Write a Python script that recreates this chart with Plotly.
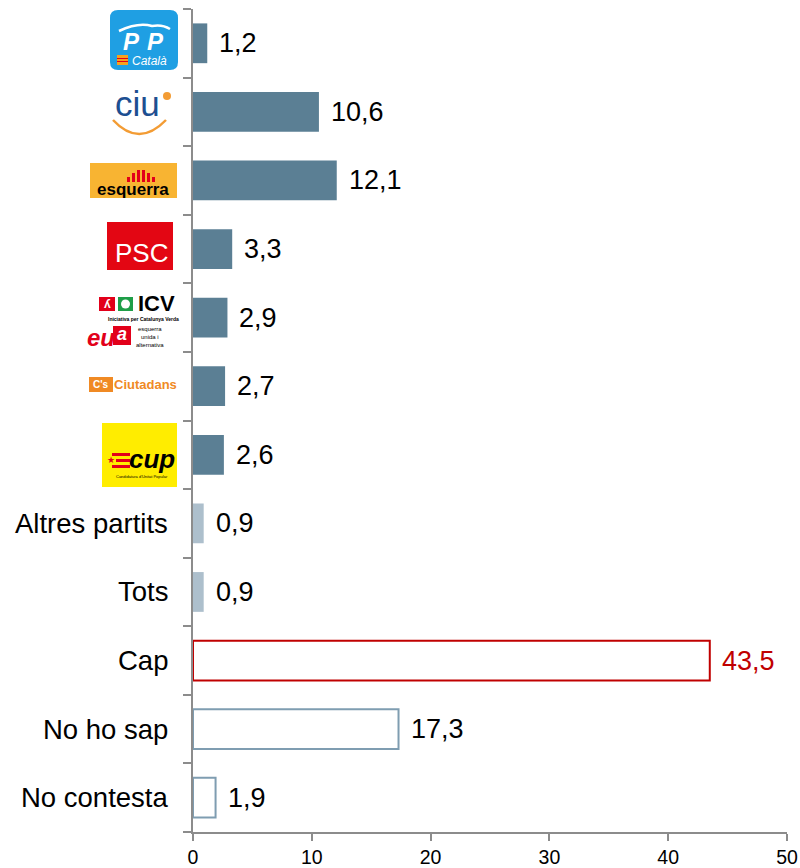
import plotly.graph_objects as go

# ---------------- data ----------------
categories = ["PP", "CiU", "ERC", "PSC", "ICV-EUiA", "C's", "CUP",
              "Altres partits", "Tots", "Cap", "No ho sap", "No contesta"]
values = [1.2, 10.6, 12.1, 3.3, 2.9, 2.7, 2.6, 0.9, 0.9, 43.5, 17.3, 1.9]
text_categories = ["Altres partits", "Tots", "Cap", "No ho sap", "No contesta"]
x_ticks = [0, 10, 20, 30, 40, 50]

# ---------------- styles ----------------
DARK = "#5b7f94"
LIGHT = "#adbfcc"
RED = "#c00000"
OUTL = "#7f9db1"
AXIS = "#8c8c8c"

fills, lines, lwidths, label_colors = [], [], [], []
for c in categories:
    if c in ("Altres partits", "Tots"):
        fills.append(LIGHT); lines.append(LIGHT); lwidths.append(0); label_colors.append("black")
    elif c == "Cap":
        fills.append("white"); lines.append(RED); lwidths.append(2); label_colors.append(RED)
    elif c in ("No ho sap", "No contesta"):
        fills.append("white"); lines.append(OUTL); lwidths.append(2); label_colors.append("black")
    else:
        fills.append(DARK); lines.append(DARK); lwidths.append(0); label_colors.append("black")

idx = list(range(len(categories)))

FONT = "Liberation Sans, Arial, sans-serif"
W_FIG, H_FIG = 800, 868
L, R, T, B = 193, 13, 9, 36
PW = W_FIG - L - R
PH = H_FIG - T - B


def X(px):
    return (px - L) / PW


def Y(py):
    return (H_FIG - B - py) / PH


fig = go.Figure()
fig.add_trace(go.Bar(
    x=values, y=idx, orientation="h",
    marker=dict(color=fills, line=dict(color=lines, width=lwidths)),
    width=0.58, hoverinfo="skip", showlegend=False,
))

annotations = []
# value labels
for i, v in enumerate(values):
    annotations.append(dict(
        x=v, y=i, xref="x", yref="y", xanchor="left", yanchor="middle",
        xshift=10, text=f"{v:.1f}".replace(".", ","), showarrow=False,
        font=dict(size=27, color=label_colors[i], family=FONT)))

# text category labels
for c in text_categories:
    i = categories.index(c)
    annotations.append(dict(
        x=X(170), y=i, xref="paper", yref="y", xanchor="right", yanchor="middle",
        text=c, showarrow=False, font=dict(size=27.5, color="black", family=FONT)))

shapes = []


def rect(x0, y0, x1, y1, fill, line_color=None, lw=0):
    shapes.append(dict(type="rect", xref="paper", yref="paper",
                       x0=X(x0), x1=X(x1), y0=Y(y1), y1=Y(y0),
                       fillcolor=fill, line=dict(width=lw, color=line_color or fill),
                       layer="above"))


def txt(px, py, s, size, color, bold=False, italic=False, anchor="center", family=FONT):
    t = s
    if bold:
        t = "<b>" + t + "</b>"
    if italic:
        t = "<i>" + t + "</i>"
    annotations.append(dict(x=X(px), y=Y(py), xref="paper", yref="paper",
                            xanchor=anchor, yanchor="middle", text=t, showarrow=False,
                            borderpad=0,
                            font=dict(size=size, color=color, family=family)))


def path(d_points, color, width, fill=None):
    shapes.append(dict(type="path", xref="paper", yref="paper", path=d_points,
                       line=dict(color=color, width=width),
                       fillcolor=fill if fill else "rgba(0,0,0,0)", layer="above"))


def P(px, py):
    return f"{X(px)},{Y(py)}"


# --- PP Català logo ---
r = 8
x0, y0, x1, y1 = 110, 10, 178, 70
d = (f"M {P(x0 + r, y0)} L {P(x1 - r, y0)} Q {P(x1, y0)} {P(x1, y0 + r)} "
     f"L {P(x1, y1 - r)} Q {P(x1, y1)} {P(x1 - r, y1)} L {P(x0 + r, y1)} "
     f"Q {P(x0, y1)} {P(x0, y1 - r)} L {P(x0, y0 + r)} Q {P(x0, y0)} {P(x0 + r, y0)} Z")
path(d, "#1f9fe3", 0, fill="#1f9fe3")
path(f"M {P(119, 31)} Q {P(138, 22)} {P(152, 26)} Q {P(162, 24)} {P(170, 29)}", "white", 2.5)
txt(131, 42, "P", 24, "white", bold=True, italic=True)
txt(155, 42, "P", 24, "white", bold=True, italic=True)
rect(117, 55, 128, 65, "#f7a21b")
rect(117, 58, 128, 59, "#e2001a")
rect(117, 61, 128, 62, "#e2001a")
txt(131, 61, "Català", 12, "white", italic=True, anchor="left")

# --- CiU logo ---
txt(137, 103, "ciu", 35, "#1d4f91")
shapes.append(dict(type="circle", xref="paper", yref="paper",
                   x0=X(163), x1=X(171), y0=Y(100), y1=Y(92),
                   fillcolor="#f39c34", line=dict(width=0), layer="above"))
path(f"M {P(113, 120)} Q {P(139, 148)} {P(166, 120)}", "#f39c34", 2.5)

# --- Esquerra logo ---
rect(90, 163, 177, 198, "#f8b432")
for bx, top in [(127, 177), (132, 173), (137, 170), (142, 170), (147, 173), (152, 177)]:
    rect(bx, top, bx + 3, 182, "#e2001a")
txt(133, 189, "esquerra", 17, "black", bold=True)

# --- PSC logo ---
rect(107, 222, 173, 270, "#e30613")
txt(141, 253, "PSC", 26, "white")

# --- ICV / EUiA logo ---
rect(99, 297, 115, 311, "#e2001a")
txt(107, 304, "ʎ", 12, "white", bold=True)
rect(118, 297, 133, 311, "#1e9e48")
shapes.append(dict(type="circle", xref="paper", yref="paper",
                   x0=X(121), x1=X(130), y0=Y(308.5), y1=Y(299.5),
                   fillcolor="white", line=dict(width=0), layer="above"))
txt(137, 303, "ICV", 22, "black", bold=True, anchor="left")
txt(143, 319, "Iniciativa per Catalunya Verda", 5, "black", bold=True)
txt(101, 337, "eu", 24, "#e2001a", bold=True, italic=True)
rect(113, 326, 131, 345, "#e2001a")
txt(122, 334, "a", 18, "white", bold=True, italic=True)
txt(135, 337, "esquerra<br>unida i<br>alternativa", 6, "black", anchor="left")

# --- Ciutadans logo ---
rect(89, 377, 113, 392, "#f08a24")
txt(101, 384.5, "C's", 10, "white", bold=True)
txt(178, 384, "Ciutadans", 13, "#f08a24", bold=True, anchor="right")

# --- CUP logo ---
rect(102, 423, 177, 487, "#ffed00")
rect(112, 453, 130, 456, "#e2001a")
rect(116, 459, 130, 462, "#e2001a")
rect(112, 465, 130, 468, "#e2001a")
txt(111, 460, "★", 9, "#e2001a")
txt(152, 459, "cup", 26, "black", bold=True, italic=True)
txt(142, 477, "Candidatura d'Unitat Popular", 4, "black")

fig.update_layout(
    width=W_FIG, height=H_FIG,
    margin=dict(l=L, r=R, t=T, b=B, pad=0, autoexpand=False),
    paper_bgcolor="white", plot_bgcolor="white",
    font=dict(family=FONT, color="black"),
    bargap=0.42,
    xaxis=dict(range=[0, 50], tickvals=x_ticks, ticktext=[str(t) for t in x_ticks],
               ticks="outside", ticklen=7, tickwidth=2, tickcolor=AXIS,
               showline=True, linecolor=AXIS, linewidth=2,
               showgrid=False, zeroline=False, automargin=False,
               tickfont=dict(size=19.5, color="black", family=FONT)),
    yaxis=dict(range=[11.5, -0.5], tickvals=[i - 0.5 for i in range(len(categories) + 1)],
               showticklabels=False, ticks="outside", ticklen=8, tickwidth=2, tickcolor=AXIS,
               showline=True, linecolor=AXIS, linewidth=2,
               showgrid=False, zeroline=False, automargin=False),
    annotations=annotations,
    shapes=shapes,
)

fig.write_html("out.html", config={"displayModeBar": False, "staticPlot": True},
               post_script="document.body.style.margin='0';document.body.style.overflow='hidden';")
